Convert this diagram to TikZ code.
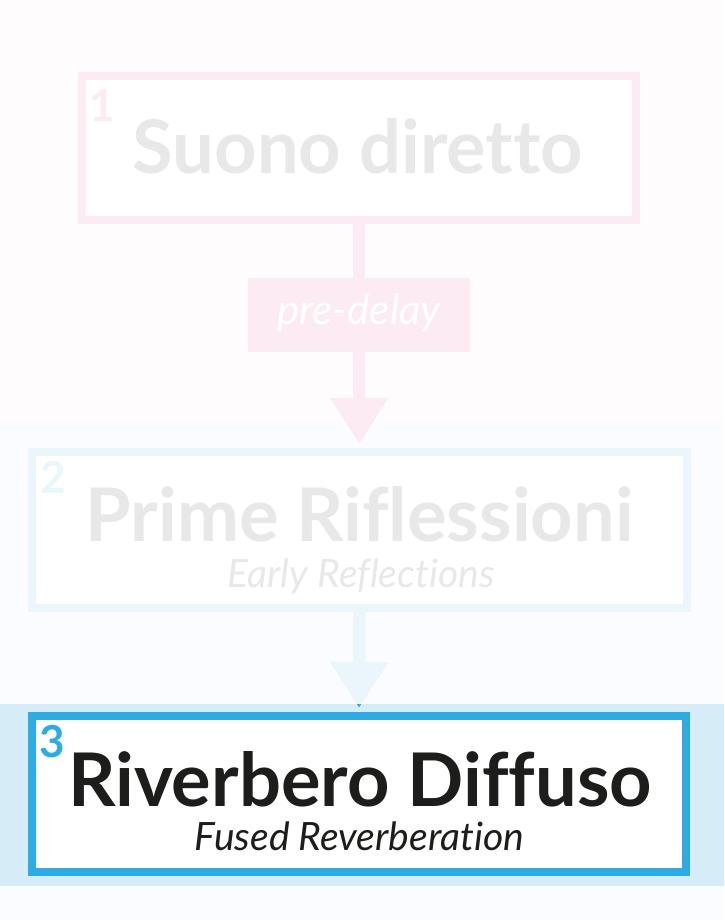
\documentclass[tikz,border=0pt]{standalone}
\usepackage{fontspec}
\setmainfont{Lato}[Ligatures=NoCommon]
\usetikzlibrary{arrows.meta,positioning}

\definecolor{pinkbg}{HTML}{FFFCFD}
\definecolor{bluebg}{HTML}{FAFCFF}
\definecolor{pinkline}{HTML}{FCEBF2}
\definecolor{paleblue}{HTML}{EAF5FC}
\definecolor{skyblue}{HTML}{2EABE2}
\definecolor{bandblue}{HTML}{D6EDF8}
\definecolor{faded}{HTML}{E8E8E8}
\definecolor{ink}{HTML}{1D1D1B}

\begin{document}
\begin{tikzpicture}[x=1pt,y=-1pt,
  stage/.style 2 args={draw=#2,line width=8pt,fill=white,minimum width=#1,minimum height=156pt,inner sep=0pt},
  title/.style={font=\bfseries\fontsize{74}{74}\selectfont,anchor=base,inner sep=0pt,text depth=0pt},
  subtitle/.style={font=\itshape\fontsize{39}{39}\selectfont,anchor=base,inner sep=0pt,text height=27pt},
  stepnum/.style={font=\bfseries\fontsize{44}{44}\selectfont,anchor=north west,inner sep=0pt},
  flow/.style={line width=12pt,-{Triangle[length=46pt,width=55pt]},shorten >=4pt}]
  \useasboundingbox (0,0) rectangle (724,920);
  \fill[pinkbg] (0,0) rectangle (724,420);
  \fill[bluebg] (0,420) rectangle (724,920);
  \fill[bandblue] (0,704) rectangle (724,886);

  \node[stage={554pt}{pinkline},minimum height=144pt] (box1) at (359,148) {};
  \node[fill=pinkline,minimum width=222pt,minimum height=74pt,inner sep=0pt] (delay) at (359,315) {};
  \node[stage={655pt}{paleblue}] (box2) at (359.5,530) {};
  \node[stage={654pt}{skyblue}] (box3) at (359,794) {};

  \node[title,faded] (t1) at (358,174) {Suono diretto};
  \node[font=\itshape\fontsize{42}{42}\selectfont,anchor=base,inner sep=0pt,white] (d1) at (359,324) {pre-delay};
  \node[title,faded] (t2) at (359.5,541) {Prime Riflessioni};
  \node[subtitle,faded] (s2) at (361,587) {Early Reflections};
  \node[title,ink] (t3) at (360,806) {Riverbero Diffuso};
  \node[subtitle,ink] (s3) at (359.5,850) {Fused Reverberation};

  \node[stepnum,pinkline] (n1) at (89,89) {1};
  \node[stepnum,paleblue] (n2) at (40,461) {2};
  \node[stepnum,skyblue] (n3) at (39,725) {3};

  \draw[pinkline,line width=12pt] (box1.south) -- (delay.north);
  \draw[flow,pinkline] (delay.south) -- (box2.north);
  \draw[flow,paleblue] (box2.south) -- (box3.north);
  \begin{scope}
    \clip (0,704) rectangle (724,712);
    \draw[flow,skyblue] (box2.south) -- (box3.north);
  \end{scope}
\end{tikzpicture}
\end{document}
